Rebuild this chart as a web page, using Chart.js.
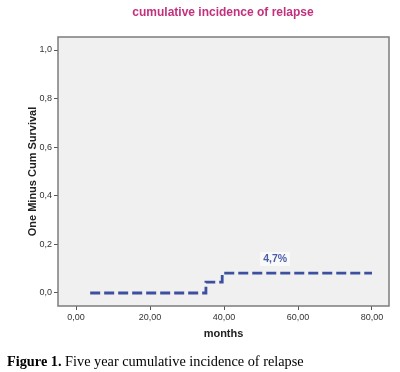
<!DOCTYPE html>
<html>
<head>
<meta charset="utf-8">
<script src="https://cdn.jsdelivr.net/npm/chart.js@4"></script>
<style>
    html, body { margin: 0; padding: 0; background: #ffffff; }
    #wrap { position: relative; width: 400px; height: 372px; }
</style>
</head>
<body>
<div id="wrap"><canvas id="chart" width="400" height="372"></canvas></div>
<script>
// 데이터
const months = [3.8, 35.1, 39.5, 80];
const incidence = [0, 0.045, 0.082, 0.082];
const xTicks = [0, 20, 40, 60, 80];
const yTicks = [0, 0.2, 0.4, 0.6, 0.8, 1.0];
const labelText = ['4,7%'];
const labelMonth = [53.8];
const labelValue = [0.14];

const chartTitle = 'cumulative incidence of relapse';
const captionBold = 'Figure 1.';
const captionText = ' Five year cumulative incidence of relapse';

const lineColor = '#3d4f9f';

/**
 * 배경, 테두리, 제목, 주석, 캡션
 */
const spssFrame = {
    id: 'spssFrame',
    beforeDraw(chart) {
        const { ctx, chartArea: a } = chart;
        ctx.save();
        ctx.fillStyle = '#f0f0f0';
        ctx.fillRect(a.left, a.top, a.right - a.left, a.bottom - a.top);
        ctx.restore();
    },
    afterDraw(chart) {
        const { ctx, chartArea: a, scales } = chart;
        ctx.save();
        ctx.strokeStyle = '#7c7c7c';
        ctx.lineWidth = 1.5;
        ctx.strokeRect(a.left, a.top, a.right - a.left, a.bottom - a.top);

        // 제목
        ctx.fillStyle = '#c2317d';
        ctx.font = 'bold 12px "Liberation Sans", Arial, sans-serif';
        ctx.textAlign = 'center';
        ctx.textBaseline = 'middle';
        ctx.fillText(chartTitle, 223, 13);

        // 주석
        ctx.font = 'bold 10.5px "Liberation Sans", Arial, sans-serif';
        labelText.forEach((t, i) => {
            const x = scales.x.getPixelForValue(labelMonth[i]);
            const y = scales.y.getPixelForValue(labelValue[i]);
            const w = ctx.measureText(t).width + 6;
            ctx.fillStyle = 'rgba(255,255,255,0.6)';
            ctx.fillRect(x - w / 2, y - 7, w, 14);
            ctx.fillStyle = '#4a5ea8';
            ctx.fillText(t, x, y);
        });

        // 캡션
        ctx.textAlign = 'left';
        ctx.fillStyle = '#000';
        ctx.font = 'bold 14.3px "Liberation Serif", "Times New Roman", serif';
        ctx.fillText(captionBold, 7, 362);
        const bw = ctx.measureText(captionBold).width;
        ctx.font = '14.3px "Liberation Serif", "Times New Roman", serif';
        ctx.fillText(captionText, 7 + bw, 362);
        ctx.restore();
    }
};

const ctx = document.getElementById('chart').getContext('2d');
new Chart(ctx, {
    type: 'line',
    data: {
        datasets: [{
            data: months.map((m, i) => ({ x: m, y: incidence[i] })),
            borderColor: lineColor,
            borderWidth: 2.8,
            borderDash: [10, 4],
            stepped: true,
            fill: false,
            pointRadius: 0
        }]
    },
    options: {
        responsive: false,
        animation: false,
        layout: { padding: { left: 0, right: 11, top: 37, bottom: 26 } },
        plugins: {
            legend: { display: false },
            tooltip: { enabled: false }
        },
        scales: {
            x: {
                type: 'linear',
                min: -4.9,
                max: 84.6,
                afterBuildTicks: s => { s.ticks = xTicks.map(v => ({ value: v })); },
                afterFit: s => { s.height = 40; },
                border: { display: false },
                grid: { drawOnChartArea: false, drawTicks: true, tickLength: 4, color: '#555' },
                ticks: {
                    color: '#333',
                    font: { size: 9, family: '"Liberation Sans", Arial, sans-serif' },
                    padding: 2,
                    maxRotation: 0,
                    callback: v => v.toFixed(2).replace('.', ',')
                },
                title: {
                    display: true,
                    text: 'months',
                    color: '#222',
                    font: { size: 11, weight: 'bold', family: '"Liberation Sans", Arial, sans-serif' },
                    padding: { top: 0, bottom: 5 }
                }
            },
            y: {
                min: -0.0535,
                max: 1.0535,
                afterBuildTicks: s => { s.ticks = yTicks.map(v => ({ value: v })); },
                afterFit: s => { s.width = 58; },
                border: { display: false },
                grid: { drawOnChartArea: false, drawTicks: true, tickLength: 4, color: '#555' },
                ticks: {
                    color: '#333',
                    font: { size: 9, family: '"Liberation Sans", Arial, sans-serif' },
                    padding: 2,
                    callback: v => v.toFixed(1).replace('.', ',')
                },
                title: {
                    display: true,
                    text: 'One Minus Cum Survival',
                    color: '#222',
                    font: { size: 11, weight: 'bold', family: '"Liberation Sans", Arial, sans-serif' },
                    padding: { top: 26, bottom: 0 }
                }
            }
        }
    },
    plugins: [spssFrame]
});
</script>
</body>
</html>
